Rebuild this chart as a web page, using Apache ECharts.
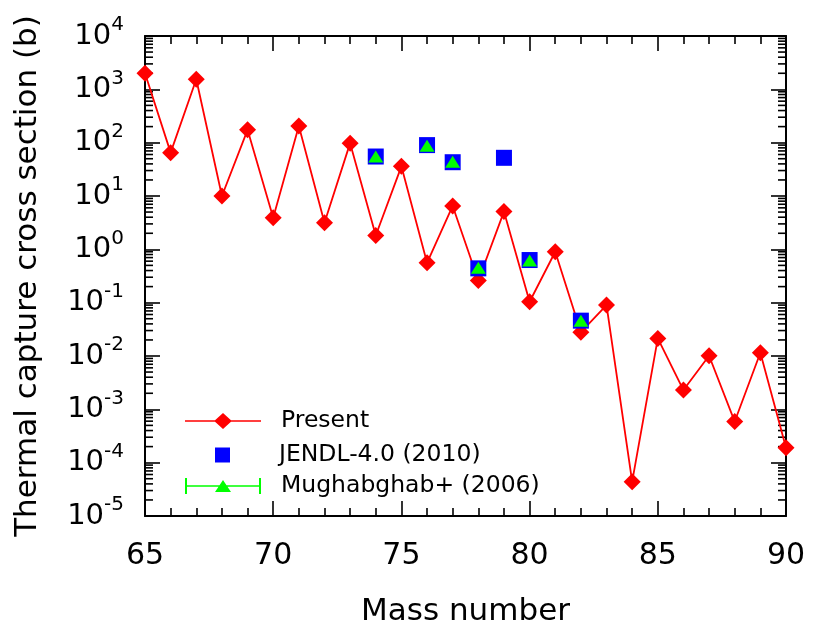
<!DOCTYPE html>
<html>
<head>
<meta charset="utf-8">
<script src="https://cdn.jsdelivr.net/npm/echarts@6/dist/echarts.min.js"></script>
<style>
  html, body { margin: 0; padding: 0; background: #fff; }
  #chart { width: 813px; height: 622px; }
</style>
</head>
<body>
<div id="chart"></div>
<script>
// mass numbers and cross sections (barn)
var massNumbers = [65, 66, 67, 68, 69, 70, 71, 72, 73, 74, 75, 76, 77, 78, 79, 80, 81, 82, 83, 84, 85, 86, 87, 88, 89, 90];
var present = [2000, 65, 1550, 10, 174, 3.9, 205, 3.16, 98, 1.82, 36, 0.56, 6.5, 0.26, 5.1, 0.104, 0.9, 0.028, 0.09, 4.4e-5, 0.0214, 0.0023, 0.0101, 5.9e-4, 0.0115, 1.9e-4];

var jendlMass = [74, 76, 77, 78, 79, 80, 82];
var jendl = [55, 90, 43, 0.44, 52, 0.63, 0.046];

var mughMass = [74, 76, 77, 78, 80, 82];
var mugh = [55, 88, 44, 0.45, 0.62, 0.046];

// log axis minor ticks (2..9 x 10^n)
var decades = [-5, -4, -3, -2, -1, 0, 1, 2, 3];
var minorSteps = [2, 3, 4, 5, 6, 7, 8, 9];

var FONT = '"DejaVu Sans", sans-serif';

function pairs(xs, ys) {
    return xs.map(function (x, i) { return [x, ys[i]]; });
}

var minorVals = [];
decades.forEach(function (d) {
    minorSteps.forEach(function (m) { minorVals.push([65, m * Math.pow(10, d)]); });
});

var chart = echarts.init(document.getElementById('chart'));

var tickStyle = { color: '#000', width: 1.6 };

var option = {
    animation: false,
    backgroundColor: '#fff',
    grid: { left: 145, right: 27, top: 36, bottom: 106, outerBoundsMode: 'none', containLabel: false },
    legend: [
        {
            data: ['Present'],
            left: 185, top: 409, padding: 0,
            itemWidth: 76, itemHeight: 16,
            icon: 'path://M0,7.2 L30,7.2 L38,0 L46,7.2 L76,7.2 L76,8.8 L46,8.8 L38,16 L30,8.8 L0,8.8 Z',
            textStyle: { fontFamily: FONT, fontSize: 23.5, color: '#000', padding: [0, 0, 0, 15] }
        },
        {
            data: ['JENDL-4.0 (2010)'],
            left: 215, top: 443, padding: 0,
            itemWidth: 15, itemHeight: 15,
            icon: 'rect',
            textStyle: { fontFamily: FONT, fontSize: 23.5, color: '#000', padding: [0, 0, 0, 44] }
        },
        {
            data: ['Mughabghab+ (2006)'],
            left: 185, top: 474, padding: 0,
            itemWidth: 76, itemHeight: 16,
            icon: 'path://M0,0 L2,0 L2,16 L0,16 Z M74,0 L76,0 L76,16 L74,16 Z M0,7.3 L76,7.3 L76,8.7 L0,8.7 Z M38,2 L46,14 L30,14 Z',
            textStyle: { fontFamily: FONT, fontSize: 23.5, color: '#000', padding: [0, 0, 0, 15] }
        }
    ],
    xAxis: [
        {
            type: 'value', min: 65, max: 90, interval: 5,
            name: 'Mass number', nameLocation: 'middle', nameGap: 80,
            nameTextStyle: { fontFamily: FONT, fontSize: 31, color: '#000' },
            axisLine: { lineStyle: { color: '#000', width: 2 } },
            axisTick: { inside: true, length: 15, lineStyle: tickStyle },
            minorTick: { show: true, splitNumber: 5, length: 8, lineStyle: tickStyle },
            axisLabel: { fontFamily: FONT, fontSize: 30, color: '#000', margin: 25 },
            splitLine: { show: false }
        },
        {
            type: 'value', min: 65, max: 90, interval: 5, position: 'top',
            axisLine: { lineStyle: { color: '#000', width: 2 } },
            axisTick: { inside: true, length: 15, lineStyle: tickStyle },
            minorTick: { show: true, splitNumber: 5, length: 8, lineStyle: tickStyle },
            axisLabel: { show: false },
            splitLine: { show: false }
        }
    ],
    yAxis: [
        {
            type: 'log', logBase: 10, min: 1e-5, max: 1e4, splitNumber: 10,
            name: 'Thermal capture cross section (b)', nameLocation: 'middle', nameGap: 102,
            nameTextStyle: { fontFamily: FONT, fontSize: 31, color: '#000' },
            axisLine: { lineStyle: { color: '#000', width: 2 } },
            axisTick: { inside: true, length: 15, lineStyle: tickStyle },
            axisLabel: {
                margin: 21,
                formatter: function (v) {
                    return '{b|10}{s|' + Math.round(Math.log10(v)) + '}';
                },
                rich: {
                    b: { fontFamily: FONT, fontSize: 29, color: '#000', lineHeight: 42 },
                    s: { fontFamily: FONT, fontSize: 20, color: '#000', lineHeight: 14, verticalAlign: 'top' }
                }
            },
            splitLine: { show: false }
        },
        {
            type: 'log', logBase: 10, min: 1e-5, max: 1e4, splitNumber: 10, position: 'right',
            axisLine: { lineStyle: { color: '#000', width: 2 } },
            axisTick: { inside: true, length: 15, lineStyle: tickStyle },
            axisLabel: { show: false },
            splitLine: { show: false }
        }
    ],
    series: [
        {
            type: 'custom',
            silent: true,
            renderItem: function (params, api) {
                var p = api.coord([api.value(0), api.value(1)]);
                var cs = params.coordSys;
                return {
                    type: 'group',
                    children: [
                        { type: 'line', shape: { x1: cs.x, y1: p[1], x2: cs.x + 8, y2: p[1] }, style: { stroke: '#000', lineWidth: 1.6 } },
                        { type: 'line', shape: { x1: cs.x + cs.width, y1: p[1], x2: cs.x + cs.width - 8, y2: p[1] }, style: { stroke: '#000', lineWidth: 1.6 } }
                    ]
                };
            },
            data: minorVals
        },
        {
            name: 'Present',
            type: 'line',
            data: pairs(massNumbers, present),
            symbol: 'diamond',
            symbolSize: 17,
            clip: false,
            lineStyle: { color: '#ff0000', width: 1.8 },
            itemStyle: { color: '#ff0000' },
            z: 3
        },
        {
            name: 'JENDL-4.0 (2010)',
            type: 'scatter',
            data: pairs(jendlMass, jendl),
            symbol: 'rect',
            symbolSize: 16,
            itemStyle: { color: '#0000ff', opacity: 1 },
            z: 4
        },
        {
            name: 'Mughabghab+ (2006)',
            type: 'scatter',
            data: pairs(mughMass, mugh),
            symbol: 'triangle',
            symbolSize: [15, 12],
            itemStyle: { color: '#00ff00', opacity: 1 },
            z: 5
        }
    ]
};

chart.setOption(option);
</script>
</body>
</html>
